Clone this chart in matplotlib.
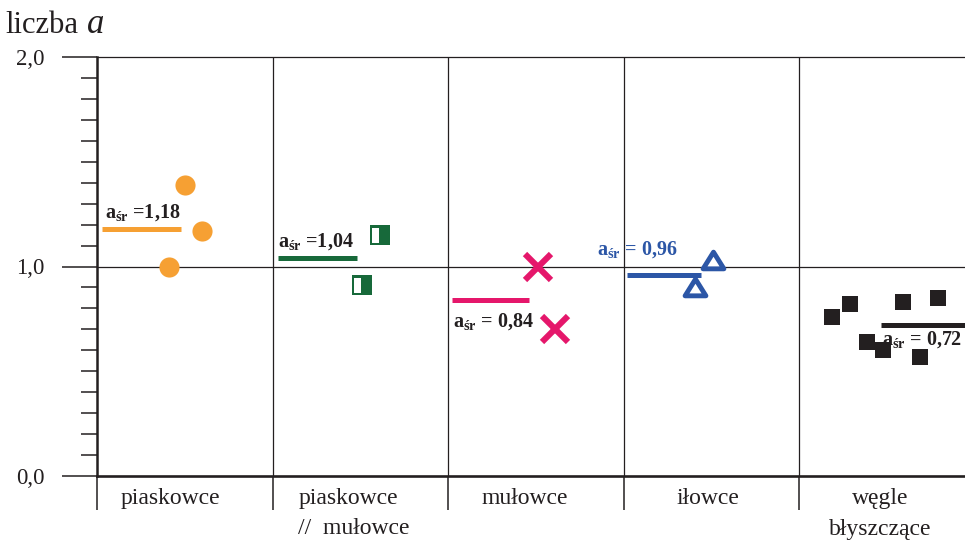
import matplotlib
matplotlib.use("Agg")
import matplotlib.pyplot as plt
from matplotlib.path import Path
import numpy as np

plt.rcParams['font.family'] = ['Liberation Serif', 'DejaVu Serif']
plt.rcParams['mathtext.fontset'] = 'custom'
plt.rcParams['mathtext.rm'] = 'Liberation Serif'
plt.rcParams['mathtext.it'] = 'Liberation Serif:italic'
plt.rcParams['mathtext.bf'] = 'Liberation Serif:bold'

# ---- data ----
categories = ['piaskowce', 'piaskowce\n//  mułowce', 'mułowce', 'iłowce', 'węgle\nbłyszczące']
piaskowce = [1.39, 1.17, 1.00]
piaskowce_mulowce = [1.15, 0.91]
mulowce = [1.00, 0.70]
ilowce = [1.03, 0.90]
wegle = [0.76, 0.82, 0.64, 0.60, 0.83, 0.57, 0.85]
means = [1.18, 1.04, 0.84, 0.96, 0.72]
y_ticks = [0.0, 1.0, 2.0]
y_tick_labels = ['0,0', '1,0', '2,0']

series = [piaskowce, piaskowce_mulowce, mulowce, ilowce, wegle]

# ---- layout / styling ----
# horizontal placement of points inside each column (column units)
x_offsets = [
    [0.50, 0.60, 0.41],
    [0.61, 0.51],
    [0.51, 0.61],
    [0.51, 0.41],
    [0.19, 0.29, 0.39, 0.48, 0.59, 0.69, 0.79],
]
mean_spans = [(0.03, 0.48), (0.03, 0.48), (0.02, 0.46), (0.02, 0.44), (0.47, 0.95)]
label_pos = [(0.046, 1.255), (1.031, 1.117), (2.028, 0.735), (2.849, 1.079), (4.473, 0.649)]
label_eq = [' =', ' =', ' = ', ' = ', ' = ']
# centre of each category-name line (column units)
name_x = [[0.42], [1.435, 1.465], [2.44], [3.48], [4.465, 4.46]]

ORANGE = '#F6A033'
GREEN = '#17693A'
CRIMSON = '#E5176B'
BLUE = '#2C56A6'
BLACK = '#231F20'
INK = '#231F20'

colors = [ORANGE, GREEN, CRIMSON, BLUE, BLACK]
label_colors = [INK, INK, INK, BLUE, INK]

# square marker with a white window on its left half
outer = [(-1, -1), (1, -1), (1, 1), (-1, 1), (-1, -1)]
inner = [(-0.77, -0.75), (-0.77, 0.67), (-0.1, 0.67), (-0.1, -0.75), (-0.77, -0.75)]
codes = [Path.MOVETO] + [Path.LINETO] * 3 + [Path.CLOSEPOLY]
window_square = Path(outer + inner, codes + codes)

# slightly flattened triangle
flat_triangle = Path([(0, 0.8), (-1, -0.8), (1, -0.8), (0, 0.8)],
                     [Path.MOVETO, Path.LINETO, Path.LINETO, Path.CLOSEPOLY])

marker_styles = [
    dict(marker='o', markersize=14.5, markerfacecolor=ORANGE, markeredgewidth=0),
    dict(marker=window_square, markersize=14.5, markerfacecolor=GREEN, markeredgewidth=0),
    dict(marker='x', markersize=18.5, markeredgecolor=CRIMSON, markeredgewidth=4.4),
    dict(marker=flat_triangle, markersize=15, markerfacecolor='white', markeredgecolor=BLUE,
         markeredgewidth=3.5),
    dict(marker='s', markersize=12.2, markerfacecolor=BLACK, markeredgewidth=0),
]

W, H = 965, 540
fig = plt.figure(figsize=(W / 100, H / 100), dpi=100)
ax = fig.add_axes([97 / W, 64 / H, 868 / W, 419 / H])
col_px = 175.5
ax.set_xlim(0, 868 / col_px)
ax.set_ylim(0, 2.0)

# frame and grid
for s in ['top', 'right', 'bottom']:
    ax.spines[s].set_visible(False)
ax.spines['left'].set_linewidth(1.8)
ax.spines['left'].set_color(INK)

ax.axhline(2.0, color=INK, lw=0.9, clip_on=False)
ax.axhline(1.0, color=INK, lw=0.9, clip_on=False)
ax.axhline(0.0, color=INK, lw=1.9, clip_on=False)
for b in range(1, 5):
    ax.axvline(b, color=INK, lw=0.9)

# y axis ticks
ax.set_yticks(y_ticks)
ax.set_yticklabels(y_tick_labels, fontsize=16.5, color=INK)
ax.set_yticks(np.arange(0, 2.01, 0.1), minor=True)
ax.tick_params(axis='y', which='major', direction='out', length=25.5, width=1.1,
               pad=12, color=INK)
ax.tick_params(axis='y', which='minor', direction='out', length=11.5, width=1.1, color=INK)

# x axis: column separators below the plot
ax.set_xticks(range(0, 5))
ax.set_xticklabels([])
ax.tick_params(axis='x', which='major', direction='out', length=24.5, width=1.1, color=INK)
ax.tick_params(axis='x', which='minor', length=0)

xt = ax.get_xaxis_transform()
for i, name in enumerate(categories):
    for j, line in enumerate(name.split('\n')):
        ax.text(name_x[i][j], (476 - (504 + 30.5 * j)) / 419, line, transform=xt,
                ha='center', va='baseline', fontsize=17, color=INK, clip_on=False)

# points, mean bars and mean labels
for i, vals in enumerate(series):
    xs = [i + dx for dx in x_offsets[i]]
    ax.plot(xs, vals, linestyle='none', color=colors[i], clip_on=False, zorder=5,
            **marker_styles[i])
    x0, x1 = mean_spans[i]
    ax.plot([i + x0, i + x1], [means[i], means[i]], color=colors[i], lw=3.6,
            solid_capstyle='butt', clip_on=False, zorder=4)
    lx, ly = label_pos[i]
    txt = r'$\mathbf{a}_{\mathbf{śr}}$' + label_eq[i] + f'{means[i]:.2f}'.replace('.', ',')
    ax.text(lx, ly, txt, fontsize=14.5, fontweight='bold', color=label_colors[i],
            ha='left', va='center', zorder=6, clip_on=False)

# axis title
fig.text(5 / W, 1 - 33 / H, 'liczba', fontsize=22, color=INK, ha='left', va='baseline')
fig.text(87 / W, 1 - 33 / H, 'a', fontsize=25, style='italic', color=INK,
         ha='left', va='baseline')

fig.savefig('out.png', dpi=100)
